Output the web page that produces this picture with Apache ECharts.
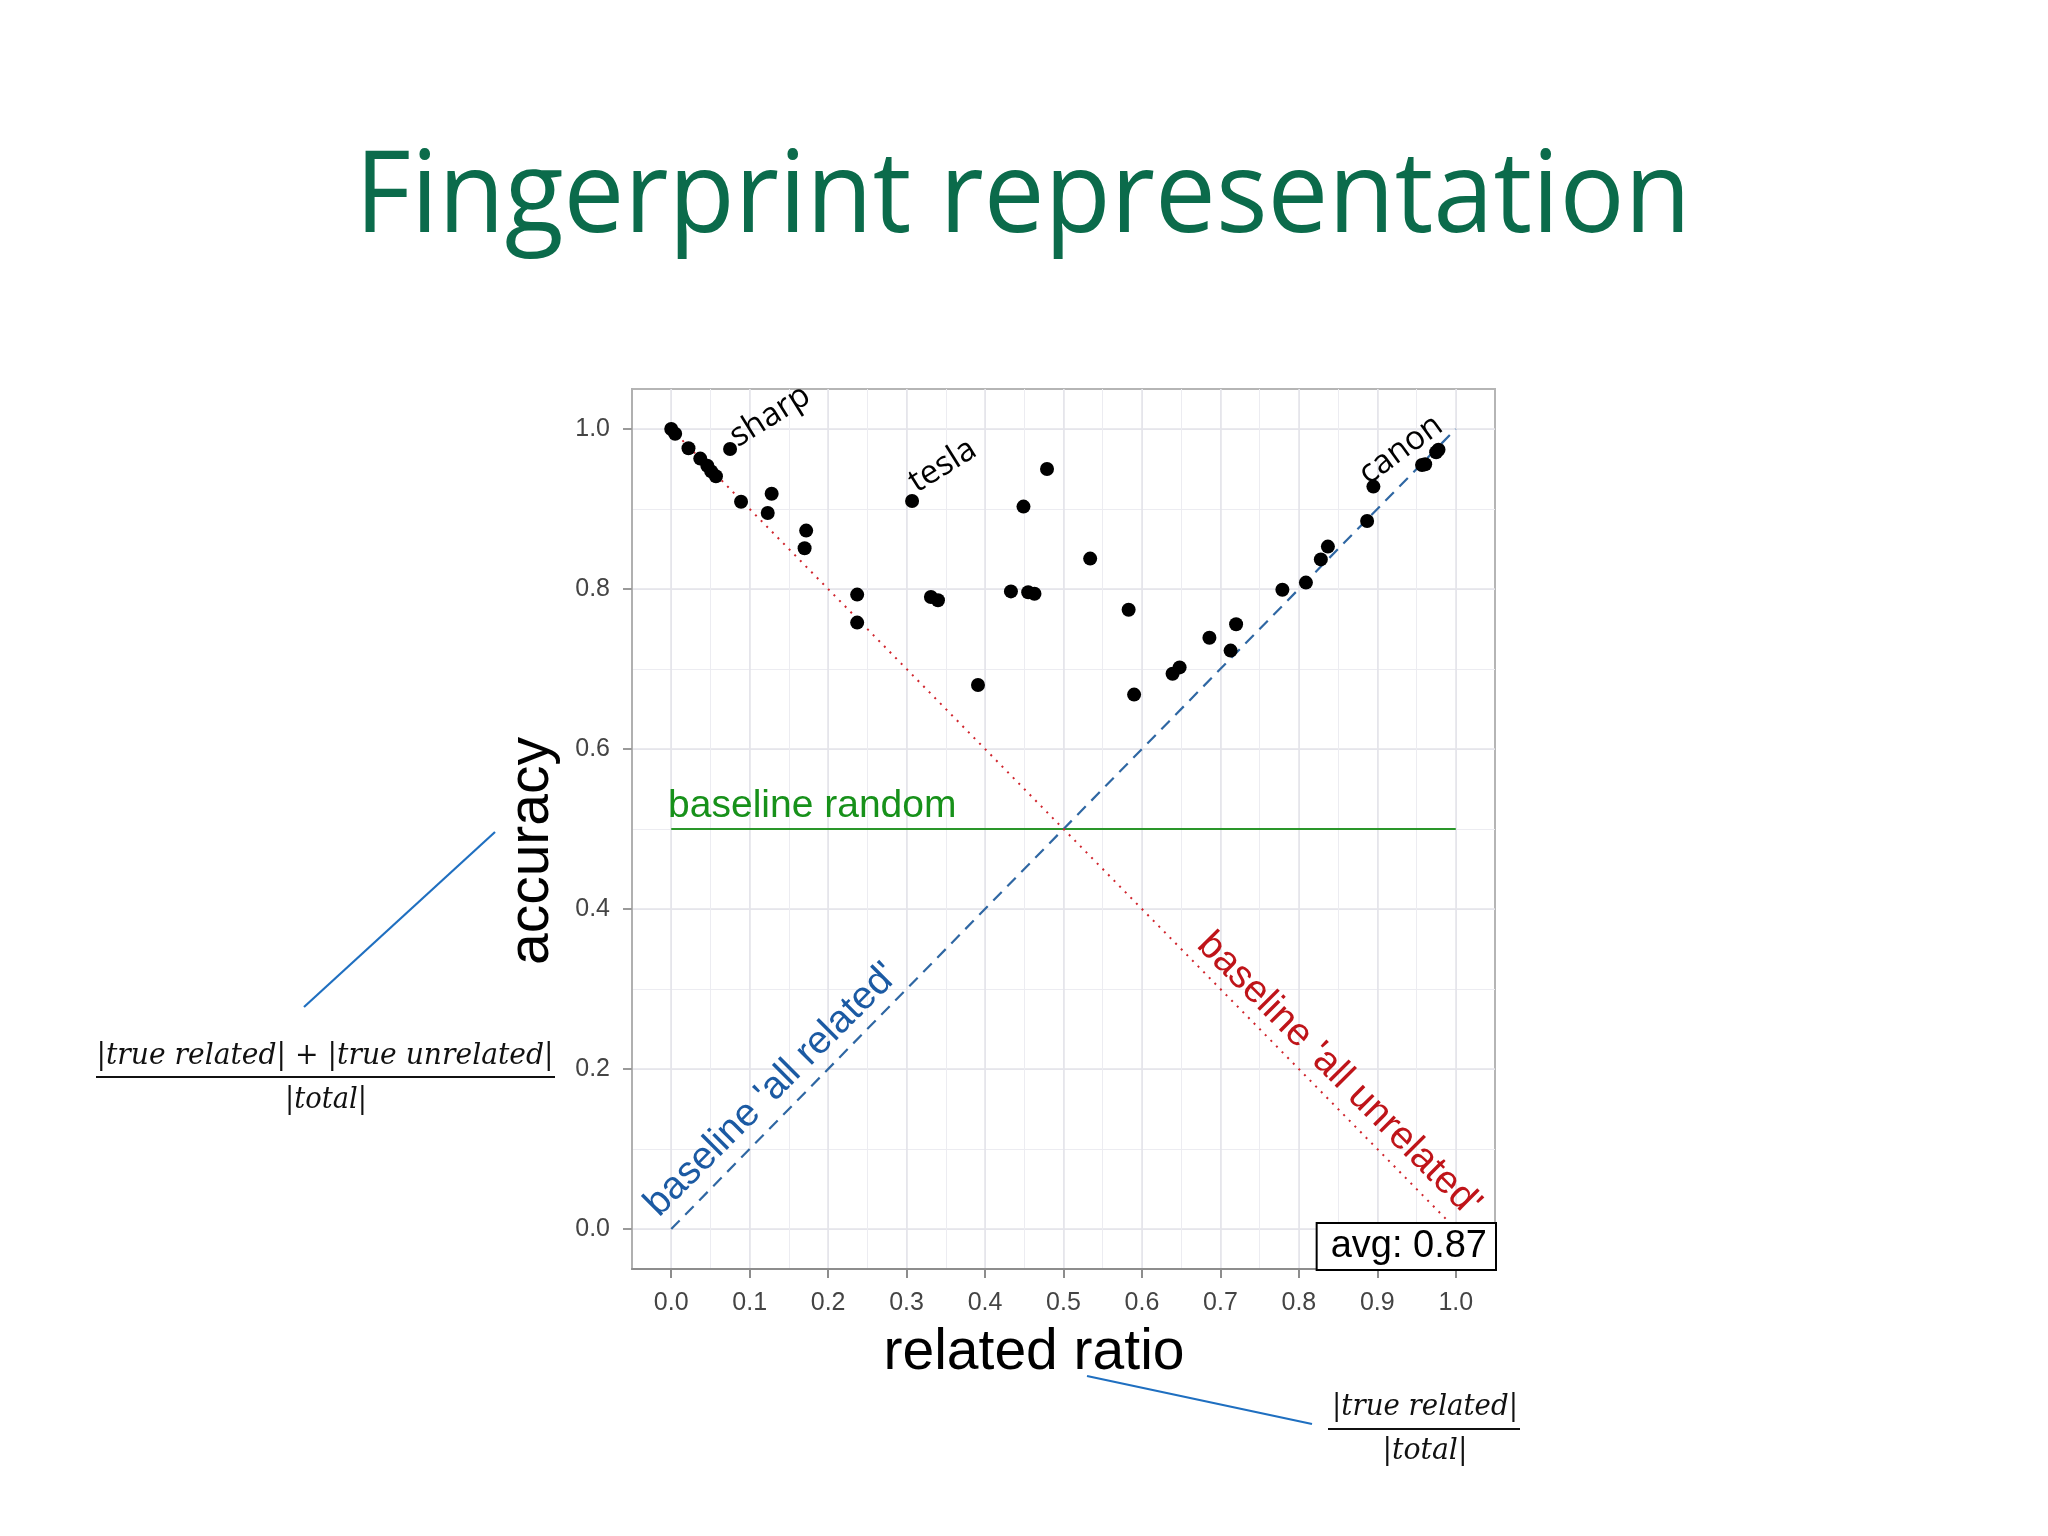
<!DOCTYPE html>
<html><head><meta charset="utf-8">
<script src="https://cdn.jsdelivr.net/npm/echarts@6/dist/echarts.min.js"></script>
<style>html,body{margin:0;padding:0;background:#fff}#c{width:2048px;height:1536px}</style>
</head><body><div id="c"></div>
<script>
// ---- data ----
const relatedRatio = [0.000,0.005,0.022,0.037,0.046,0.051,0.057,0.075,0.089,0.128,0.123,0.172,0.170,0.237,0.237,
  0.307,0.331,0.340,0.391,0.433,0.455,0.463,0.449,0.479,0.534,0.583,0.590,0.639,0.648,0.686,0.713,0.720,
  0.779,0.809,0.828,0.837,0.887,0.895,0.957,0.961,0.975,0.978];
const accuracy = [1.000,0.994,0.976,0.963,0.954,0.947,0.941,0.975,0.909,0.919,0.895,0.873,0.851,0.793,0.758,
  0.910,0.790,0.786,0.680,0.797,0.796,0.794,0.903,0.950,0.838,0.774,0.668,0.694,0.702,0.739,0.723,0.756,
  0.799,0.808,0.837,0.853,0.885,0.928,0.955,0.956,0.971,0.974];
const baselineX = [0, 1];
const baselineRandom = [0.5, 0.5];
const baselineAllRelated = [0, 1];
const baselineAllUnrelated = [1, 0];
const avgAccuracy = 0.87;
const xTickValues = [0.0,0.1,0.2,0.3,0.4,0.5,0.6,0.7,0.8,0.9,1.0];
const xMinorValues = [0.0,0.05,0.1,0.15,0.2,0.25,0.3,0.35,0.4,0.45,0.5,0.55,0.6,0.65,0.7,0.75,0.8,0.85,0.9,0.95,1.0];
const yTickValues = [0.0,0.2,0.4,0.6,0.8,1.0];
const yMinorValues = [0.0,0.1,0.2,0.3,0.4,0.5,0.6,0.7,0.8,0.9,1.0];
const titleText = 'Fingerprint representation';
const xTitle = 'related ratio';
const yTitle = 'accuracy';

// ---- helpers ----
const cv = document.createElement('canvas').getContext('2d');
function fitScale(text, font, target){ cv.font = font; return target / cv.measureText(text).width; }

const chart = echarts.init(document.getElementById('c'), null, {renderer:'canvas'});
const AX = 'Liberation Sans';
const gridL = 632, gridT = 389, gridW = 863, gridH = 880;

function zip(a,b){ return a.map((v,i)=>[v,b[i]]); }

const titleFont = 'normal 114px "Open Sans"';
const f1num = '|true related| + |true unrelated|';
const f1den = '|total|';
const f2num = '|true related|';
const mathFont = 'italic 30px "DejaVu Serif"';
const axTitleFont = 'normal 57px "Liberation Sans"';

const option = {
  animation:false,
  backgroundColor:'#ffffff',
  grid:{left:gridL, top:gridT, width:gridW, height:gridH, show:true, backgroundColor:'#ffffff', borderColor:'#b5b5b5', borderWidth:2},
  xAxis:[
    {type:'value', min:-0.05, max:1.05, interval:0.05,
      axisLine:{show:false}, axisTick:{show:false, customValues:xMinorValues}, axisLabel:{show:false, customValues:xMinorValues},
      splitLine:{show:true, lineStyle:{color:'#ececf1', width:1}}},
    {type:'value', min:-0.05, max:1.05, position:'bottom',
      axisLine:{show:true, onZero:false, lineStyle:{color:'#8d8d8d', width:2}},
      axisTick:{show:true, customValues:xTickValues, length:9, lineStyle:{color:'#8d8d8d', width:2}},
      axisLabel:{customValues:xTickValues, formatter:v=>v.toFixed(1), margin:22, fontSize:25, color:'#444', fontFamily:AX},
      splitLine:{show:true, lineStyle:{color:'#e3e3e9', width:1.5}}}
  ],
  yAxis:[
    {type:'value', min:-0.05, max:1.05, interval:0.05,
      axisLine:{show:false}, axisTick:{show:false, customValues:yMinorValues}, axisLabel:{show:false, customValues:yMinorValues},
      splitLine:{show:true, lineStyle:{color:'#ececf1', width:1}}},
    {type:'value', min:-0.05, max:1.05, position:'left',
      axisLine:{show:true, onZero:false, lineStyle:{color:'#b0b0b0', width:2}},
      axisTick:{show:true, customValues:yTickValues, length:9, lineStyle:{color:'#9a9a9a', width:2}},
      axisLabel:{customValues:yTickValues, formatter:v=>v.toFixed(1), margin:22, fontSize:25, color:'#444', fontFamily:AX},
      splitLine:{show:true, lineStyle:{color:'#e3e3e9', width:1.5}}}
  ],
  series:[
    {type:'line', name:'baseline random', xAxisIndex:1, yAxisIndex:1, data:zip(baselineX, baselineRandom), symbol:'none', z:2,
      lineStyle:{color:'#2a962a', width:2}},
    {type:'line', name:'all related', xAxisIndex:1, yAxisIndex:1, data:zip(baselineX, baselineAllRelated), symbol:'none', z:2,
      lineStyle:{color:'#2f67a3', width:2.2, type:[12,8]}},
    {type:'line', name:'all unrelated', xAxisIndex:1, yAxisIndex:1, data:zip(baselineX, baselineAllUnrelated), symbol:'none', z:2,
      lineStyle:{color:'#d0252d', width:2, type:[2,6]}},
    {type:'scatter', name:'sites', xAxisIndex:1, yAxisIndex:1, data:zip(relatedRatio, accuracy), symbolSize:14, z:4,
      itemStyle:{color:'#000', opacity:1}},
    {type:'scatter', name:'annotations', xAxisIndex:1, yAxisIndex:1, symbolSize:0, z:5, silent:true,
      itemStyle:{opacity:1},
      label:{show:true, position:'inside', align:'center', verticalAlign:'middle'},
      data:[
        {value:[0.126,1.016], label:{formatter:'sharp', rotate:32, fontSize:33, fontFamily:'Open Sans', color:'#000'}},
        {value:[0.346,0.954], label:{formatter:'tesla', rotate:32, fontSize:33, fontFamily:'Open Sans', color:'#000'}},
        {value:[0.930,0.974], label:{formatter:'canon', rotate:36, fontSize:33, fontFamily:'Open Sans', color:'#000'}},
        {value:[-0.004,0.529], label:{formatter:'baseline random', align:'left', fontSize:39, fontFamily:AX, color:'#17911a'}},
        {value:[0.128,0.174], label:{formatter:"baseline 'all related'", rotate:45, fontSize:39, fontFamily:AX, color:'#1b5aa3'}},
        {value:[0.851,0.193], label:{formatter:"baseline 'all unrelated'", rotate:-45, fontSize:39, fontFamily:AX, color:'#bf1419'}},
        {value:[1.05,-0.05], label:{formatter:'avg: ' + avgAccuracy.toFixed(2), position:[0,0], align:'right', verticalAlign:'bottom',
          fontSize:38, fontFamily:AX, color:'#000', backgroundColor:'#fff', borderColor:'#000', borderWidth:2, padding:[4,8,3,13]}}
      ]}
  ]
};
chart.setOption(option);

// axis titles, slide title, formulas, pointer lines
const gfx = [
  {type:'text', x:1023, y:200, scaleX:fitScale(titleText, titleFont, 1336),
    style:{text:titleText, font:titleFont, fill:'#0b6b4b', align:'center', verticalAlign:'middle'}},
  {type:'text', x:1034, y:1353, style:{text:xTitle, font:axTitleFont, fill:'#000', align:'center', verticalAlign:'middle'}},
  {type:'text', x:532, y:851, rotation:Math.PI/2, style:{text:yTitle, font:axTitleFont, fill:'#000', align:'center', verticalAlign:'middle'}},
  {type:'line', shape:{x1:495, y1:832, x2:304, y2:1007}, style:{stroke:'#1f6fc0', lineWidth:2.2}},
  {type:'line', shape:{x1:1087, y1:1376, x2:1312, y2:1424}, style:{stroke:'#1f6fc0', lineWidth:2.2}},
  {type:'text', x:325, y:1056, scaleX:fitScale(f1num, mathFont, 457), style:{text:f1num, font:mathFont, fill:'#111', align:'center', verticalAlign:'middle'}},
  {type:'rect', shape:{x:96, y:1076, width:459, height:2}, style:{fill:'#111'}},
  {type:'text', x:326, y:1100, scaleX:fitScale(f1den, mathFont, 82), style:{text:f1den, font:mathFont, fill:'#111', align:'center', verticalAlign:'middle'}},
  {type:'text', x:1425, y:1407, scaleX:fitScale(f2num, mathFont, 186), style:{text:f2num, font:mathFont, fill:'#111', align:'center', verticalAlign:'middle'}},
  {type:'rect', shape:{x:1328, y:1428, width:192, height:2}, style:{fill:'#111'}},
  {type:'text', x:1425, y:1451, scaleX:fitScale(f1den, mathFont, 85), style:{text:f1den, font:mathFont, fill:'#111', align:'center', verticalAlign:'middle'}}
];
chart.setOption({graphic:gfx});
</script>
</body></html>
